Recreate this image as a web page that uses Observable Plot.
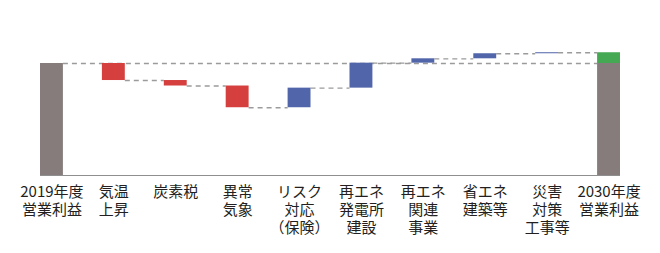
<!DOCTYPE html>
<html><head><meta charset="utf-8">
<script src="https://cdn.jsdelivr.net/npm/d3@7"></script>
<script src="https://cdn.jsdelivr.net/npm/@observablehq/plot@0.6"></script>
<style>body{margin:0;background:#fff;} svg{display:block}</style>
</head><body><div id="chart"></div>
<script>
const categories = [
  "2019年度\n営業利益",
  "気温\n上昇",
  "炭素税",
  "異常\n気象",
  "リスク\n対応\n（保険）",
  "再エネ\n発電所\n建設",
  "再エネ\n関連\n事業",
  "省エネ\n建築等",
  "災害\n対策\n工事等",
  "2030年度\n営業利益"
];
const baseValue = 100;
const changes = [-15.2, -4.9, -19.4, 17.5, 22.3, 3.9, 4.5, 0.9];

const colorBase = "#857c7b", colorDown = "#d5403f", colorUp = "#5165aa", colorGain = "#45a852";
const half = 0.185;

let level = baseValue;
const bars = [{i: 0, y1: 0, y2: baseValue, fill: colorBase}];
const links = [];
changes.forEach((c, k) => {
  const i = k + 1;
  const next = level + c;
  bars.push({i, y1: level, y2: next, fill: c < 0 ? colorDown : colorUp});
  links.push({i, y: next});
  level = next;
});
bars.push({i: 9, y1: 0, y2: baseValue, fill: colorBase});
bars.push({i: 9, y1: baseValue, y2: level, fill: colorGain});

const dash = {stroke: "#9b9b9b", strokeDasharray: "5,4", strokeWidth: 1.3};

const chart = Plot.plot({
  width: 660, height: 253,
  marginLeft: 40, marginRight: 40, marginTop: 20, marginBottom: 78,
  x: {type: "linear", domain: [-half, 9 + half], axis: null},
  y: {domain: [0, 100], range: [175, 63], axis: null},
  color: {type: "identity"},
  style: {fontFamily: "'Noto Sans CJK JP', sans-serif", background: "#fff"},
  marks: [
    Plot.ruleY([baseValue], {y: d => d, x1: () => half, x2: () => 9 - half, ...dash}),
    Plot.ruleY(links, {y: "y", x1: d => d.i + half, x2: d => d.i + 1 - half, ...dash}),
    Plot.rectY(bars, {x1: d => d.i - half, x2: d => d.i + half, y1: "y1", y2: "y2", fill: "fill"}),
    Plot.ruleY([0], {stroke: "#8f8f8f", strokeWidth: 1}),
    Plot.axisX(categories.map((_, i) => i), {
      tickSize: 0, tickPadding: 8, tickFormat: i => categories[i],
      fontSize: 15, lineHeight: 1.23, color: "#231f20"
    })
  ]
});
document.getElementById("chart").append(chart);
</script>
</body></html>
